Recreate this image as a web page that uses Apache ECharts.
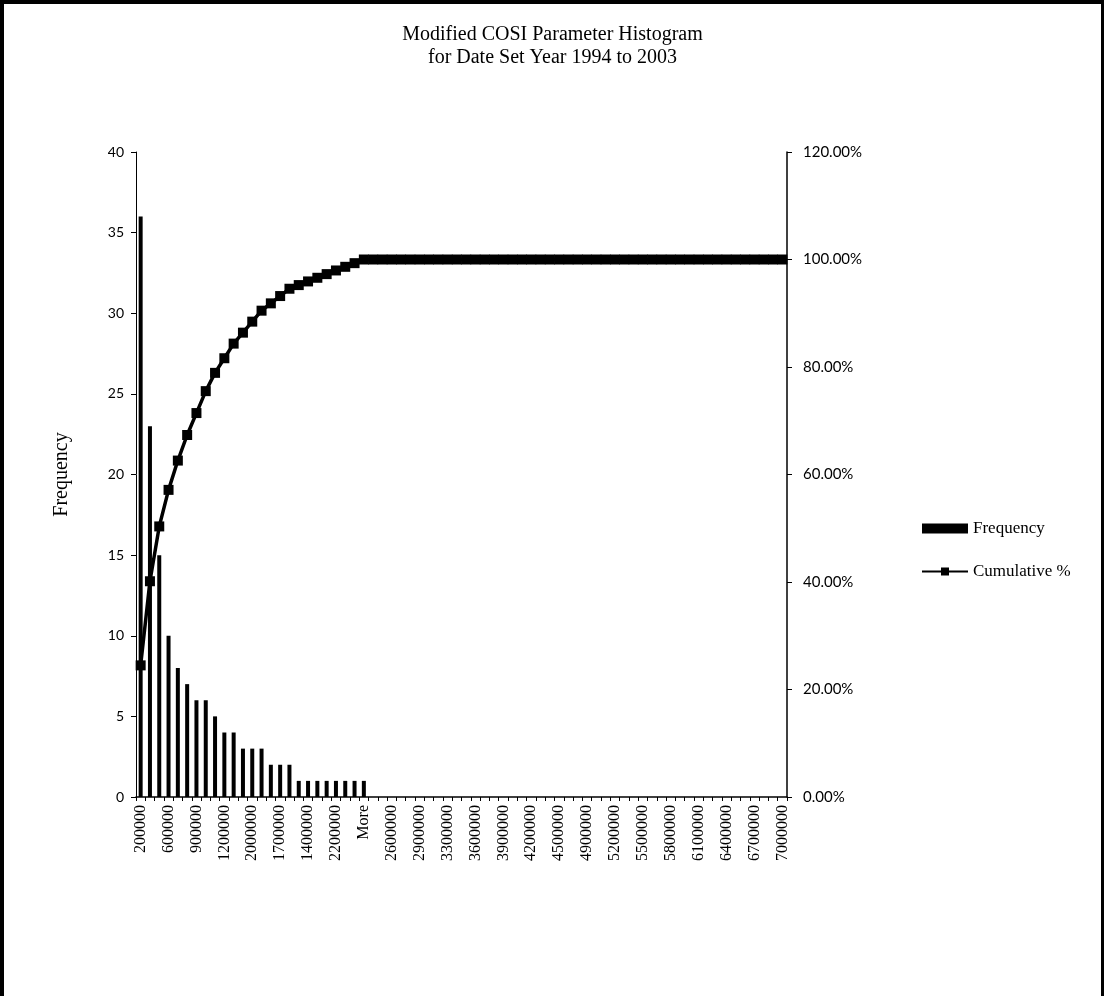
<!DOCTYPE html>
<html>
<head>
<meta charset="utf-8">
<title>Modified COSI Parameter Histogram</title>
<script src="https://cdn.jsdelivr.net/npm/echarts@6/dist/echarts.min.js"></script>
<style>
  html, body { margin: 0; padding: 0; background: #fff; }
  #chart {
    width: 1104px; height: 996px; box-sizing: border-box;
    border-top: 4px solid #000; border-left: 4px solid #000; border-right: 3px solid #000;
  }
</style>
</head>
<body>
<div id="chart"></div>
<script>
// Bin labels shown under the axis (every third bin carries a label)
const binLabels = [
  '200000', '600000', '900000', '1200000', '2000000', '1700000', '1400000', '2200000',
  'More', '2600000', '2900000', '3300000', '3600000', '3900000', '4200000', '4500000',
  '4900000', '5200000', '5500000', '5800000', '6100000', '6400000', '6700000', '7000000'
];

// Frequency per bin (70 bins)
const frequency = [
  36, 23, 15, 10, 8, 7, 6, 6, 5, 4,
  4, 3, 3, 3, 2, 2, 2, 1, 1, 1,
  1, 1, 1, 1, 1, 0, 0, 0, 0, 0,
  0, 0, 0, 0, 0, 0, 0, 0, 0, 0,
  0, 0, 0, 0, 0, 0, 0, 0, 0, 0,
  0, 0, 0, 0, 0, 0, 0, 0, 0, 0,
  0, 0, 0, 0, 0, 0, 0, 0, 0, 0
];

// Cumulative percentage per bin
const cumulative = [
  24.49, 40.14, 50.34, 57.14, 62.59, 67.35, 71.43, 75.51, 78.91, 81.63,
  84.35, 86.39, 88.44, 90.48, 91.84, 93.20, 94.56, 95.24, 95.92, 96.60,
  97.28, 97.96, 98.64, 99.32, 100, 100, 100, 100, 100, 100,
  100, 100, 100, 100, 100, 100, 100, 100, 100, 100,
  100, 100, 100, 100, 100, 100, 100, 100, 100, 100,
  100, 100, 100, 100, 100, 100, 100, 100, 100, 100,
  100, 100, 100, 100, 100, 100, 100, 100, 100, 100
];

// Category axis: one slot per bin, labelled every third slot
const categories = frequency.map((_, i) => (i % 3 === 0 ? binLabels[i / 3] : ' '.repeat(i)));

const serif = "'Liberation Serif', 'DejaVu Serif', serif";
const sans = "Lato, 'Open Sans', sans-serif";

const chart = echarts.init(document.getElementById('chart'), null, { renderer: 'canvas' });
chart.setOption({
  animation: false,
  backgroundColor: '#fff',
  title: {
    text: 'Modified COSI Parameter Histogram\nfor Date Set Year 1994 to 2003',
    left: 'center',
    top: 14,
    textStyle: { fontFamily: serif, fontSize: 20, fontWeight: 'normal', color: '#000', lineHeight: 23 }
  },
  legend: {
    orient: 'vertical',
    left: 912,
    top: 511,
    itemGap: 26,
    itemWidth: 46,
    itemHeight: 10,
    textStyle: { fontFamily: serif, fontSize: 17, color: '#000' },
    data: [
      { name: 'Frequency', icon: 'rect' },
      { name: 'Cumulative %' }
    ]
  },
  grid: { left: 132, right: 314, top: 148, bottom: 199, outerBoundsMode: 'none' },
  xAxis: {
    type: 'category',
    data: categories,
    boundaryGap: true,
    axisLine: { lineStyle: { color: '#000', width: 1.5 } },
    axisTick: { show: true, interval: 0, length: 4, lineStyle: { color: '#000' } },
    axisLabel: {
      interval: 2, rotate: 90, margin: 8,
      fontFamily: serif, fontSize: 16, color: '#000'
    }
  },
  yAxis: [
    {
      type: 'value', min: 0, max: 40, interval: 5,
      name: 'Frequency', nameLocation: 'middle', nameGap: 64, nameRotate: 90,
      nameTextStyle: { fontFamily: serif, fontSize: 20, color: '#000' },
      axisLine: { show: true, lineStyle: { color: '#000', width: 1 } },
      axisTick: { show: true, length: 5, lineStyle: { color: '#000' } },
      splitLine: { show: false },
      axisLabel: { fontFamily: sans, fontSize: 14, color: '#000', margin: 12 }
    },
    {
      type: 'value', min: 0, max: 120, interval: 20, position: 'right',
      axisLine: { show: true, lineStyle: { color: '#000', width: 1.5 } },
      axisTick: { show: true, length: 5, lineStyle: { color: '#000' } },
      splitLine: { show: false },
      axisLabel: {
        fontFamily: sans, fontSize: 15, color: '#000', margin: 16,
        formatter: v => v.toFixed(2) + '%'
      }
    }
  ],
  series: [
    {
      name: 'Frequency', type: 'bar', yAxisIndex: 0,
      data: frequency, barWidth: 4,
      itemStyle: { color: '#000' }
    },
    {
      name: 'Cumulative %', type: 'line', yAxisIndex: 1,
      data: cumulative,
      symbol: 'rect', symbolSize: 10, showSymbol: true, showAllSymbol: true,
      lineStyle: { color: '#000', width: 3.5 },
      itemStyle: { color: '#000' }
    }
  ]
});
</script>
</body>
</html>
